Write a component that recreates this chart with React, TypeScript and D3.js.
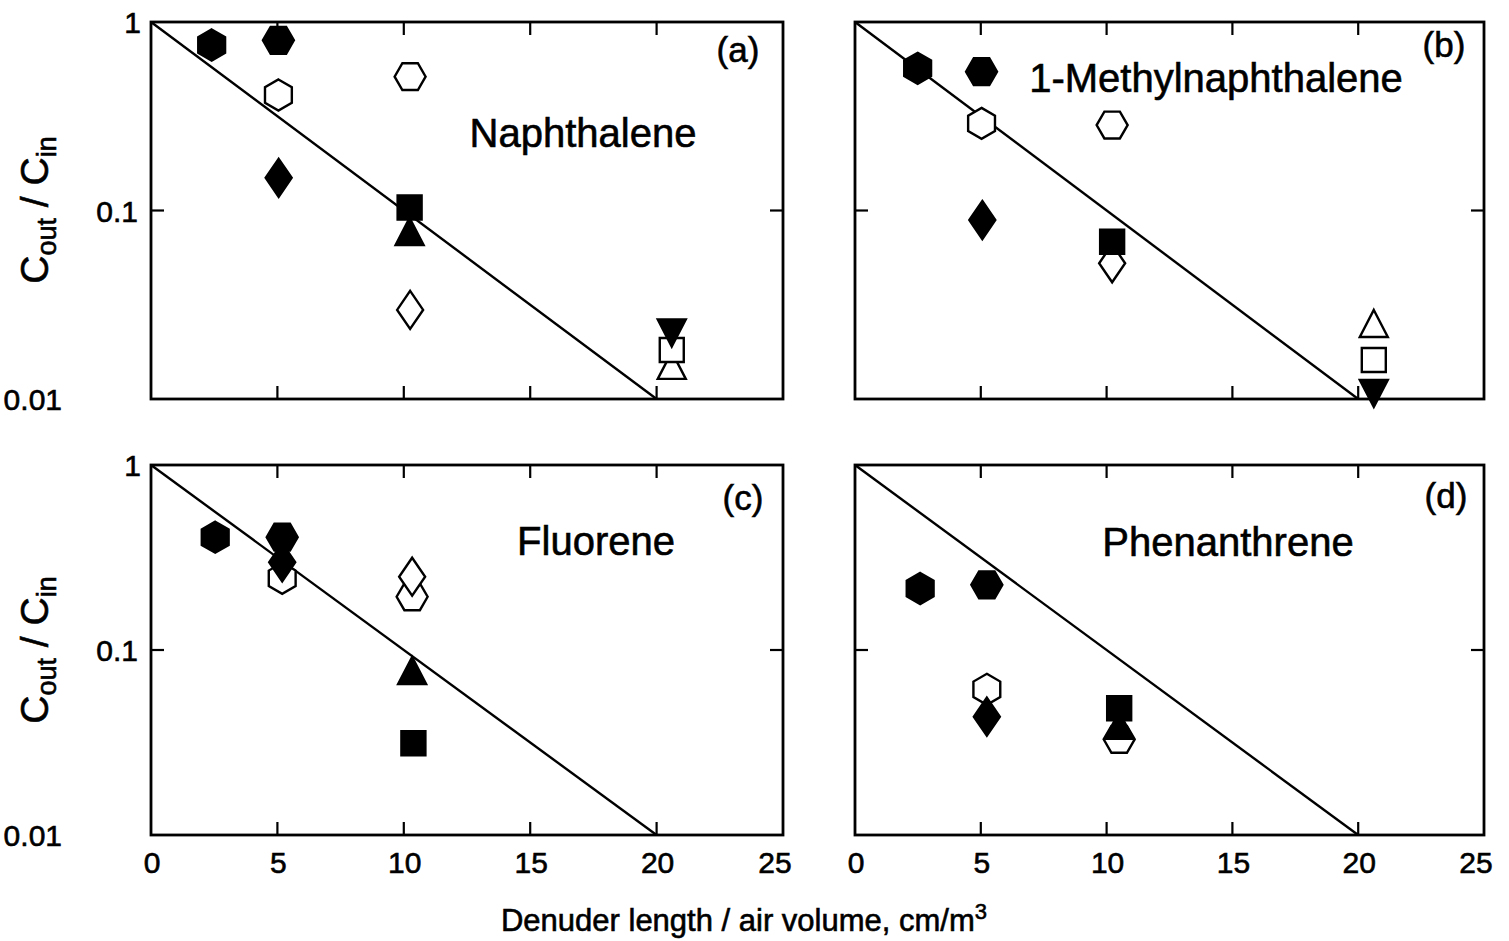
import React from "react";
import * as d3 from "d3";

// ---------- data ----------
const seriesKeys = ["A", "B", "C", "D", "E", "F", "G", "H", "I", "J", "K"];
const seriesShapes = ["hexV", "hexH", "hexV", "diamond", "hexH", "square", "triUp", "diamond", "triDown", "square", "triUp"];
const seriesFilled = [true, true, false, true, false, true, true, false, true, false, false];

const panelLetters = ["(a)", "(b)", "(c)", "(d)"];
const compoundNames = ["Naphthalene", "1-Methylnaphthalene", "Fluorene", "Phenanthrene"];

// x (cm/m3) and Cout/Cin per series (null = no point)
const naphX = [2.4, 5.04, 5.04, 5.05, 10.25, 10.23, 10.23, 10.25, 20.6, 20.6, 20.6];
const naphY = [0.755, 0.8, 0.41, 0.149, 0.513, 0.1037, 0.076, 0.0297, 0.0228, 0.0182, 0.0148];

const methX = [2.49, 5.03, 5.03, 5.06, 10.22, 10.22, null, 10.22, 20.62, 20.62, 20.62];
const methY = [0.568, 0.545, 0.29, 0.089, 0.284, 0.0683, null, 0.0525, 0.0109, 0.0161, 0.0247];

const fluoX = [2.54, 5.19, 5.19, 5.19, 10.33, 10.38, 10.33, 10.33, null, null, null];
const fluoY = [0.407, 0.407, 0.244, 0.298, 0.194, 0.0313, 0.076, 0.249, null, null, null];

const phenX = [2.59, 5.24, 5.24, 5.24, 10.5, 10.5, 10.5, null, null, null, null];
const phenY = [0.215, 0.225, 0.0613, 0.0436, 0.0329, 0.0484, 0.0385, null, null, null, null];

// fitted line: log10(C) = -x/10
const fitX = [0, 20];
const fitY = [1, 0.01];

const xTicks = [0, 5, 10, 15, 20, 25];
const yTicks = [1, 0.1, 0.01];
const yTickLabels = ["1", "0.1", "0.01"];

const panelX = [naphX, methX, fluoX, phenX];
const panelY = [naphY, methY, fluoY, phenY];

// draw order (later on top)
const drawOrder = [0, 1, 2, 3, 4, 7, 6, 5, 10, 9, 8];

// ---------- layout ----------
const W = 1509;
const H = 941;
const boxes = [
  { x0: 151, x1: 783, y0: 22, y1: 399 },
  { x0: 855, x1: 1484, y0: 22, y1: 399 },
  { x0: 151, x1: 783, y0: 465, y1: 835 },
  { x0: 855, x1: 1484, y0: 465, y1: 835 },
];
const yLabelRight = [141, 138, 62];
const FONT = "'Liberation Sans', Arial, Helvetica, sans-serif";
const TXT = { fontFamily: FONT, fill: "#000", stroke: "#000", strokeWidth: 0.6 };

function markerPath(shape: string): string {
  const pts: [number, number][] = [];
  if (shape === "hexV") {
    const r = 15.5;
    for (let i = 0; i < 6; i++) {
      const a = (Math.PI / 3) * i - Math.PI / 2;
      pts.push([r * Math.cos(a), r * Math.sin(a)]);
    }
  } else if (shape === "hexH") {
    const r = 15.5;
    for (let i = 0; i < 6; i++) {
      const a = (Math.PI / 3) * i;
      pts.push([r * Math.cos(a), r * Math.sin(a)]);
    }
  } else if (shape === "diamond") {
    pts.push([0, -19], [13, 0], [0, 19], [-13, 0]);
  } else if (shape === "square") {
    pts.push([-12, -12], [12, -12], [12, 12], [-12, 12]);
  } else if (shape === "triUp") {
    pts.push([0, -15], [14, 12], [-14, 12]);
  } else if (shape === "triDown") {
    pts.push([0, 15], [14, -12], [-14, -12]);
  }
  return "M" + pts.map((p) => p.join(",")).join("L") + "Z";
}

function Panel({ idx }: { idx: number }) {
  const b = boxes[idx];
  const x = d3.scaleLinear().domain([0, 25]).range([b.x0, b.x1]);
  const y = d3.scaleLog().domain([0.01, 1]).range([b.y1, b.y0]);
  const line = d3
    .line<number>()
    .x((_, i) => x(fitX[i]))
    .y((_, i) => y(fitY[i]));
  const showYLabels = idx === 0 || idx === 2;
  const showXLabels = idx === 2 || idx === 3;
  const tickLen = 13;
  const xs = panelX[idx];
  const ys = panelY[idx];
  const nameX = [583, 1216, 596, 1228][idx];
  const nameY = [147, 92, 555, 556][idx];
  const letterX = [738, 1444, 743, 1446][idx];
  const letterY = [62, 57, 510, 508][idx];

  return (
    <g>
      {/* fit line */}
      <path d={line(fitX) || ""} fill="none" stroke="#000" strokeWidth={2.4} />
      {/* points */}
      {drawOrder.map((s) => {
        const xv = xs[s];
        const yv = ys[s];
        if (xv == null || yv == null) return null;
        const filled = seriesFilled[s];
        return (
          <path
            key={seriesKeys[s]}
            d={markerPath(seriesShapes[s])}
            transform={`translate(${x(xv)},${y(yv)})`}
            fill={filled ? "#000" : "#fff"}
            stroke="#000"
            strokeWidth={2.4}
            strokeLinejoin="miter"
          />
        );
      })}
      {/* frame */}
      <rect x={b.x0} y={b.y0} width={b.x1 - b.x0} height={b.y1 - b.y0} fill="none" stroke="#000" strokeWidth={2.8} />
      {/* x ticks top & bottom */}
      {xTicks.slice(1, -1).map((t) => (
        <g key={"xt" + t}>
          <line x1={x(t)} x2={x(t)} y1={b.y0} y2={b.y0 + tickLen} stroke="#000" strokeWidth={2.2} />
          <line x1={x(t)} x2={x(t)} y1={b.y1} y2={b.y1 - tickLen} stroke="#000" strokeWidth={2.2} />
        </g>
      ))}
      {/* y ticks left & right */}
      {yTicks.slice(1, -1).map((t) => (
        <g key={"yt" + t}>
          <line x1={b.x0} x2={b.x0 + tickLen} y1={y(t)} y2={y(t)} stroke="#000" strokeWidth={2.2} />
          <line x1={b.x1} x2={b.x1 - tickLen} y1={y(t)} y2={y(t)} stroke="#000" strokeWidth={2.2} />
        </g>
      ))}
      {showXLabels &&
        xTicks.map((t) => (
          <text key={"xl" + t} x={x(t) + (t === 25 ? -8 : 1)} y={b.y1 + 38} textAnchor="middle" fontSize={30} {...TXT}>
            {t}
          </text>
        ))}
      {showYLabels &&
        yTicks.map((t, i) => (
          <text key={"yl" + t} x={yLabelRight[i]} y={y(t) + 11} textAnchor="end" fontSize={30} {...TXT}>
            {yTickLabels[i]}
          </text>
        ))}
      <text x={letterX} y={letterY} textAnchor="middle" fontSize={35} {...TXT}>
        {panelLetters[idx]}
      </text>
      <text x={nameX} y={nameY} textAnchor="middle" fontSize={40} {...TXT}>
        {compoundNames[idx]}
      </text>
    </g>
  );
}

function YLabel({ cx, cy }: { cx: number; cy: number }) {
  return (
    <text transform={`translate(${cx},${cy}) rotate(-90)`} textAnchor="middle" fontSize={39} {...TXT}>
      C
      <tspan fontSize={27} dy={8}>out</tspan>
      <tspan dy={-8}> / C</tspan>
      <tspan fontSize={27} dy={8}>in</tspan>
    </text>
  );
}

export default function App() {
  return (
    <svg width={W} height={H} style={{ position: "absolute", left: 0, top: 0, background: "#fff" }}>
      <rect x={0} y={0} width={W} height={H} fill="#fff" />
      {[0, 1, 2, 3].map((i) => (
        <Panel key={i} idx={i} />
      ))}
      <YLabel cx={48} cy={210} />
      <YLabel cx={48} cy={650} />
      <text x={744} y={931} textAnchor="middle" fontSize={31} {...TXT}>
        Denuder length / air volume, cm/m
        <tspan fontSize={22} dy={-12}>3</tspan>
      </text>
    </svg>
  );
}
